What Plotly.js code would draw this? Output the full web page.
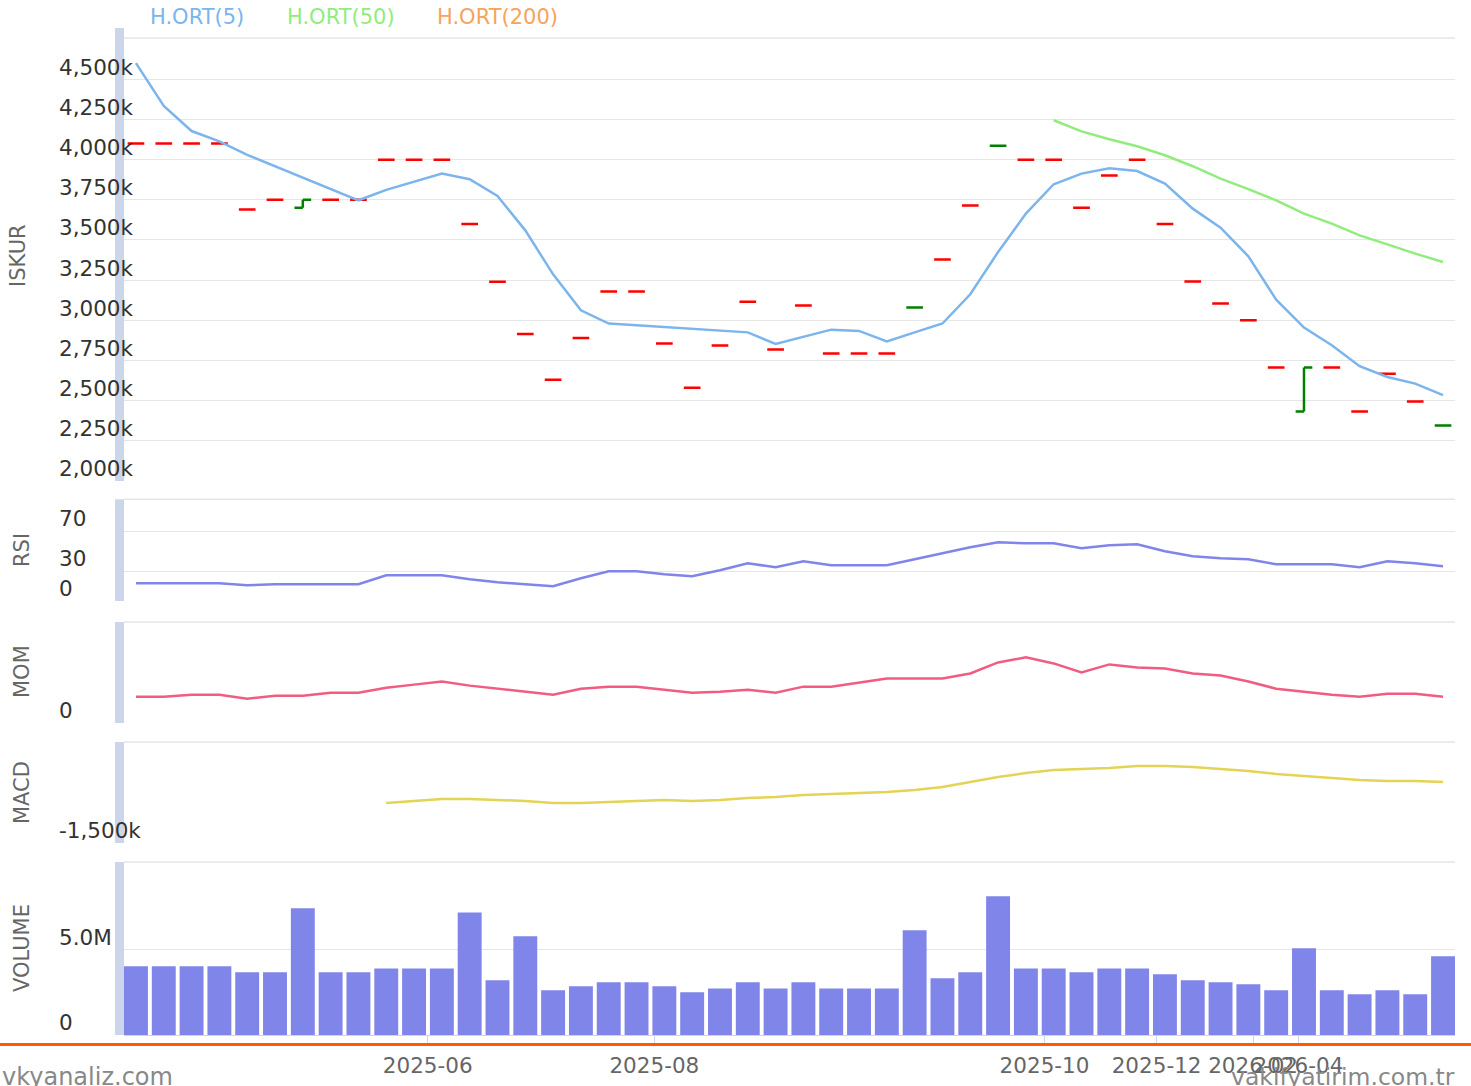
<!DOCTYPE html>
<html>
<head>
<meta charset="utf-8">
<script src="https://cdn.plot.ly/plotly-3.0.1.min.js"></script>
<style>html,body{margin:0;padding:0;background:#fff;}#chart{width:1471px;height:1086px;}</style>
</head>
<body>
<div id="chart"></div>
<script>
// ---------- DATA ----------
const tickPos  = [10.49, 18.64, 32.67, 36.70, 40.17, 41.80];
const tickText = ['2025-06', '2025-08', '2025-10', '2025-12', '2026-02', '2026-04'];

// price bars (k)
const openP  = [4100,4100,4100,4100,3690,3750,3700,3750,3750,4000,4000,4000,3600,3240,2915,2630,2890,3180,3180,2855,2580,2843,3115,2818,3092,2793,2793,2793,3079,3378,3714,4087,4000,4000,3701,3901,4000,3600,3241,3104,3000,2706,2432,2706,2432,2668,2494,2345];
const closeP = [4100,4100,4100,4100,3690,3750,3750,3750,3750,4000,4000,4000,3600,3240,2915,2630,2890,3180,3180,2855,2580,2843,3115,2818,3092,2793,2793,2793,3079,3378,3714,4087,4000,4000,3701,3901,4000,3600,3241,3104,3000,2706,2706,2706,2432,2668,2494,2345];
const barUp  = [0,0,0,0,0,0,1,0,0,0,0,0,0,0,0,0,0,0,0,0,0,0,0,0,0,0,0,0,1,0,0,1,0,0,0,0,0,0,0,0,0,0,1,0,0,0,0,1];

const ma5  = [4601,4334,4178,4114,4030,3959,3889,3820,3747,3812,3863,3913,3878,3774,3560,3286,3062,2980,2969,2958,2947,2936,2925,2853,2898,2942,2934,2868,2925,2980,3162,3425,3664,3847,3913,3946,3929,3851,3695,3577,3398,3129,2955,2845,2714,2647,2606,2535];
const ma50 = [null,null,null,null,null,null,null,null,null,null,null,null,null,null,null,null,null,null,null,null,null,null,null,null,null,null,null,null,null,null,null,null,null,4245,4176,4127,4083,4027,3959,3882,3817,3747,3664,3602,3529,3473,3415,3363];
const ma200 = new Array(48).fill(null);

const rsi = [17.7,17.7,17.7,17.7,15.7,16.7,16.7,16.7,16.7,25.7,25.7,25.7,21.7,18.7,16.7,14.7,22.7,29.7,29.7,26.7,24.7,30.7,37.7,33.7,39.7,35.7,35.7,35.7,41.7,47.7,53.7,58.7,57.7,57.7,52.7,55.7,56.7,49.7,44.7,42.7,41.7,36.7,36.7,36.7,33.7,39.7,37.7,34.7];
const mom = [26,26,28,28,24,27,27,30,30,35,38,41,37,34,31,28,34,36,36,33,30,31,33,30,36,36,40,44,44,44,49,60,65,59,50,58,55,54,49,47,41,34,31,28,26,29,29,26];
const macd = [null,null,null,null,null,null,null,null,null,-1104,-1084,-1064,-1064,-1074,-1084,-1104,-1104,-1094,-1084,-1074,-1084,-1074,-1054,-1045,-1025,-1015,-1005,-995,-975,-946,-896,-847,-807,-777,-767,-757,-737,-737,-747,-767,-787,-817,-836,-856,-876,-886,-886,-896];
const volume = [4.02,4.02,4.02,4.02,3.67,3.67,7.42,3.67,3.67,3.90,3.90,3.90,7.18,3.20,5.78,2.62,2.85,3.09,3.09,2.85,2.50,2.73,3.09,2.73,3.09,2.73,2.73,2.73,6.13,3.32,3.67,8.12,3.90,3.90,3.67,3.90,3.90,3.55,3.20,3.09,2.97,2.62,5.08,2.62,2.38,2.62,2.38,4.61].map(v => v * 1e6);

const priceTicks = [2000,2250,2500,2750,3000,3250,3500,3750,4000,4250,4500];
const rsiTicks = [0, 30, 70];
const momTicks = [0];
const macdTicks = [-1500];
const volTicks = [0, 5e6];
const volTickText = ['0', '5.0M'];

// ---------- LAYOUT HELPERS ----------
const W = 1471, H = 1086, ML = 50, MR = 16, MT = 20, MB = 40;
const PW = W - ML - MR, PH = H - MT - MB;
const px = x => (x - ML) / PW;
const py = y => (H - MB - y) / PH;
const dom = (top, bot) => [py(bot), py(top)];
const kLabel = v => (v < 0 ? '-' : '') + Math.abs(v).toLocaleString('en-US') + 'k';

const idx = openP.map((_, i) => i);
const FONT = 'DejaVu Sans';
const GRID = '#e6e6e6', AXC = '#ccd6eb';

function ohlcTrace(flag, color) {
  const sel = idx.filter(i => barUp[i] === flag);
  return {
    type: 'ohlc', x: sel, open: sel.map(i => openP[i]), close: sel.map(i => closeP[i]),
    high: sel.map(i => Math.max(openP[i], closeP[i])), low: sel.map(i => Math.min(openP[i], closeP[i])),
    increasing: {line: {color: color, width: 2.5}}, decreasing: {line: {color: color, width: 2.5}},
    tickwidth: 0.3, xaxis: 'x', yaxis: 'y', showlegend: false, hoverinfo: 'skip'
  };
}

const traces = [
  ohlcTrace(0, '#ff0000'),
  ohlcTrace(1, '#008000'),
  {type: 'scatter', mode: 'lines', x: idx, y: ma5, line: {color: '#7cb5ec', width: 2.5}, xaxis: 'x', yaxis: 'y', name: 'H.ORT(5)', showlegend: false},
  {type: 'scatter', mode: 'lines', x: idx, y: ma50, line: {color: '#90ed7d', width: 2.5}, xaxis: 'x', yaxis: 'y', name: 'H.ORT(50)', showlegend: false},
  {type: 'scatter', mode: 'lines', x: idx, y: ma200, line: {color: '#f7a35c', width: 2.5}, xaxis: 'x', yaxis: 'y', name: 'H.ORT(200)', showlegend: false},
  {type: 'scatter', mode: 'lines', x: idx, y: rsi, line: {color: '#8085e9', width: 2.5}, xaxis: 'x2', yaxis: 'y2', showlegend: false},
  {type: 'scatter', mode: 'lines', x: idx, y: mom, line: {color: '#f15c80', width: 2.5}, xaxis: 'x3', yaxis: 'y3', showlegend: false},
  {type: 'scatter', mode: 'lines', x: idx, y: macd, line: {color: '#e4d354', width: 2.5}, xaxis: 'x4', yaxis: 'y4', showlegend: false},
  {type: 'bar', x: idx, y: volume, marker: {color: '#8085e9'}, xaxis: 'x5', yaxis: 'y5', showlegend: false}
];

const xRange = [-0.43, 47.43];
const xBase = {range: xRange, domain: [px(124), px(1455)], showgrid: false, zeroline: false, fixedrange: true};
const yBase = {anchor: 'free', position: px(58), side: 'right', ticklabelposition: 'outside top', ticklabelshift: 3, ticks: '',
  showline: false, gridcolor: GRID, gridwidth: 1, zeroline: false, tickfont: {family: FONT, size: 21.5, color: '#333333'}};

const panels = [
  {top: 38, bot: 481},
  {top: 499.3, bot: 601},
  {top: 622, bot: 723},
  {top: 742, bot: 843},
  {top: 862, bot: 1035}
];

const layout = {
  width: W, height: H, margin: {l: ML, r: MR, t: MT, b: MB},
  paper_bgcolor: '#ffffff', plot_bgcolor: '#ffffff', showlegend: false, bargap: 0.14,
  font: {family: FONT},
  xaxis:  Object.assign({}, xBase, {anchor: 'y', showticklabels: false, rangeslider: {visible: false}}),
  xaxis2: Object.assign({}, xBase, {anchor: 'y2', matches: 'x', showticklabels: false}),
  xaxis3: Object.assign({}, xBase, {anchor: 'y3', matches: 'x', showticklabels: false}),
  xaxis4: Object.assign({}, xBase, {anchor: 'y4', matches: 'x', showticklabels: false}),
  xaxis5: Object.assign({}, xBase, {anchor: 'y5', matches: 'x', tickvals: tickPos, ticktext: tickText, tickangle: 0,
    ticks: 'outside', ticklen: 10, tickcolor: AXC, tickwidth: 1, showline: true, linecolor: AXC, linewidth: 1,
    ticklabelstandoff: 1, tickfont: {family: FONT, size: 21.5, color: '#666666'}}),
  yaxis:  Object.assign({}, yBase, {domain: dom(panels[0].top, panels[0].bot), range: [2000, 2000 + (481 - 38) * 6.2235],
    tickvals: priceTicks, ticktext: priceTicks.map(kLabel)}),
  yaxis2: Object.assign({}, yBase, {domain: dom(panels[1].top, panels[1].bot), range: [0, 101.7], tickvals: rsiTicks, ticktext: rsiTicks.map(String)}),
  yaxis3: Object.assign({}, yBase, {domain: dom(panels[2].top, panels[2].bot), range: [0, 100], tickvals: momTicks, ticktext: momTicks.map(String)}),
  yaxis4: Object.assign({}, yBase, {domain: dom(panels[3].top, panels[3].bot), range: [-1500, -500], tickvals: macdTicks, ticktext: macdTicks.map(kLabel)}),
  yaxis5: Object.assign({}, yBase, {domain: dom(panels[4].top, panels[4].bot), range: [0, 10.13e6], tickvals: volTicks, ticktext: volTickText}),
  shapes: [],
  annotations: []
};

// thick left axis bars and top border lines of each pane
const barTops = [28, 499.3, 622, 742, 862];
panels.forEach((p, k) => {
  layout.shapes.push({type: 'rect', xref: 'paper', yref: 'paper', x0: px(115), x1: px(124), y0: py(p.bot), y1: py(barTops[k]),
    fillcolor: AXC, line: {width: 0}, layer: 'below'});
  layout.shapes.push({type: 'line', xref: 'paper', yref: 'paper', x0: px(124), x1: px(1455), y0: py(p.top), y1: py(p.top),
    line: {color: GRID, width: 1.5}, layer: 'below'});
});
// orange separator line
layout.shapes.push({type: 'line', xref: 'paper', yref: 'paper', x0: px(0), x1: px(W), y0: py(1044.5), y1: py(1044.5),
  line: {color: '#ff5a00', width: 3}});

// axis titles
const titles = [['ISKUR', 18, 256], ['RSI', 22, 550], ['MOM', 22, 672], ['MACD', 22, 793], ['VOLUME', 22, 948]];
titles.forEach(t => layout.annotations.push({text: t[0], xref: 'paper', yref: 'paper', x: px(t[1]), y: py(t[2]),
  xanchor: 'center', yanchor: 'middle', textangle: -90, showarrow: false, font: {family: FONT, size: 21, color: '#666666'}}));

// legend texts
const legendItems = [['H.ORT(5)', '#7cb5ec', 148], ['H.ORT(50)', '#90ed7d', 285], ['H.ORT(200)', '#f7a35c', 435]];
legendItems.forEach(l => layout.annotations.push({text: l[0], xref: 'paper', yref: 'paper', x: px(l[2]), y: py(17),
  xanchor: 'left', yanchor: 'middle', showarrow: false, font: {family: FONT, size: 21, color: l[1]}}));

// watermarks
layout.annotations.push({text: 'vkyanaliz.com', xref: 'paper', yref: 'paper', x: px(0), y: py(1077), xanchor: 'left', yanchor: 'middle',
  showarrow: false, font: {family: FONT, size: 24, color: '#888888'}});
layout.annotations.push({text: 'vakifyatirim.com.tr', xref: 'paper', yref: 'paper', x: px(1457), y: py(1077), xanchor: 'right', yanchor: 'middle',
  showarrow: false, font: {family: FONT, size: 23.5, color: '#888888'}});

Plotly.newPlot('chart', traces, layout, {staticPlot: true, displayModeBar: false});
</script>
</body>
</html>
